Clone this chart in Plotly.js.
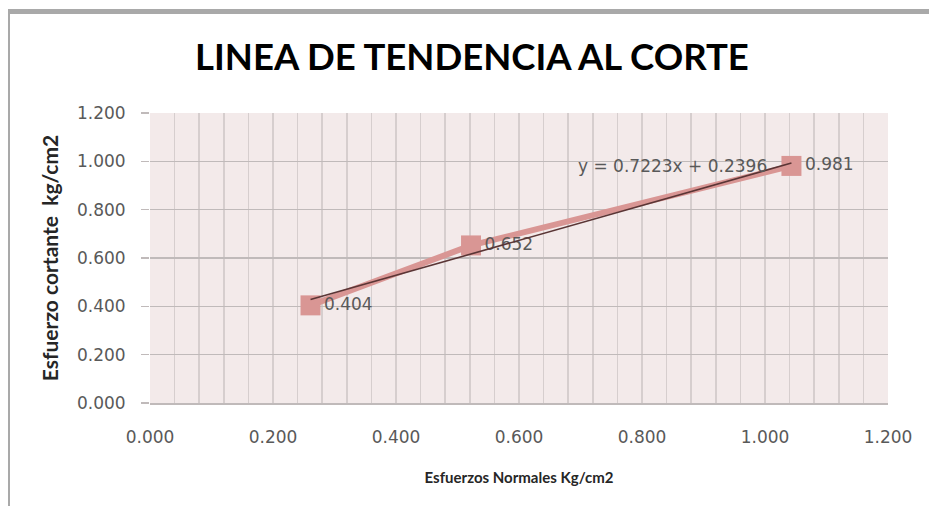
<!DOCTYPE html>
<html>
<head>
<meta charset="utf-8">
<script src="https://cdn.plot.ly/plotly-3.0.1.min.js"></script>
<style>
html,body{margin:0;padding:0;background:#ffffff;}
#chart{position:absolute;left:0;top:0;width:929px;height:506px;}
#frame{position:absolute;left:8px;top:9px;width:921px;height:497px;border-top:5px solid #a9a9a9;border-left:2px solid #a9a9a9;pointer-events:none;box-sizing:border-box;}
</style>
</head>
<body>
<div id="chart"></div>
<div id="frame"></div>
<script>
// Data
const normalStress = [0.261, 0.522, 1.043];      // Esfuerzos Normales Kg/cm2
const shearStress  = [0.404, 0.652, 0.981];      // Esfuerzo cortante kg/cm2
const pointLabels  = ['0.404', '0.652', '0.981'];
const trendSlope = 0.7223;
const trendIntercept = 0.2396;
const trendLabel = 'y = 0.7223x + 0.2396';
const xTickVals = [0, 0.2, 0.4, 0.6, 0.8, 1.0, 1.2];
const xTickText = ['0.000', '0.200', '0.400', '0.600', '0.800', '1.000', '1.200'];
const yTickVals = [0, 0.2, 0.4, 0.6, 0.8, 1.0, 1.2];
const yTickText = ['0.000', '0.200', '0.400', '0.600', '0.800', '1.000', '1.200'];
const chartTitle = 'LINEA DE TENDENCIA AL CORTE';
const xTitle = 'Esfuerzos Normales Kg/cm2';
const yTitle = 'Esfuerzo cortante  kg/cm2';

const xMin = Math.min(...normalStress), xMax = Math.max(...normalStress);
const trendX = [xMin, xMax];
const trendY = trendX.map(v => trendSlope * v + trendIntercept);

const labelFont = {family: 'DejaVu Sans, sans-serif', size: 17, color: '#595959'};

const traces = [
  {
    x: normalStress, y: shearStress, type: 'scatter', mode: 'lines+markers+text',
    text: pointLabels, textposition: 'middle right', textfont: labelFont,
    line: {color: '#d99694', width: 6},
    marker: {symbol: 'square', size: 20, color: '#d99694'},
    hoverinfo: 'x+y', showlegend: false, cliponaxis: false
  },
  {
    x: trendX, y: trendY, type: 'scatter', mode: 'lines',
    line: {color: '#5a3535', width: 1.6},
    hoverinfo: 'skip', showlegend: false
  }
];

const layout = {
  width: 929, height: 506,
  margin: {l: 150, r: 41, t: 113, b: 103},
  paper_bgcolor: 'rgba(0,0,0,0)',
  plot_bgcolor: '#f3eaea',
  showlegend: false,
  title: {
    text: chartTitle, x: 0.508, xanchor: 'center', y: 0.887, yanchor: 'middle',
    xref: 'container', yref: 'container',
    font: {family: 'Lato, sans-serif', size: 36.5, color: '#000000', weight: 'bold'}
  },
  xaxis: {
    range: [0, 1.2], tickvals: xTickVals, ticktext: xTickText,
    ticks: '', ticklabelstandoff: 18,
    tickfont: labelFont,
    showgrid: true, gridcolor: '#d6cece', gridwidth: 1.5,
    minor: {dtick: 0.04, tick0: 0, showgrid: true, gridcolor: '#d6cece', gridwidth: 1.5, ticks: ''},
    zeroline: false, showline: true, linecolor: '#c0baba', linewidth: 1.5,
    title: {text: xTitle, standoff: 26, font: {family: 'Lato, sans-serif', size: 15, color: '#262626', weight: 'bold'}}
  },
  yaxis: {
    range: [0, 1.2], tickvals: yTickVals, ticktext: yTickText,
    ticks: 'outside', ticklen: 8, tickcolor: '#c0baba', tickwidth: 1.5,
    ticklabelstandoff: 12, tickfont: labelFont,
    showgrid: true, gridcolor: '#c0baba', gridwidth: 1.5,
    zeroline: false, showline: false,
    title: {text: yTitle, standoff: 12, font: {family: 'Lato, sans-serif', size: 21, color: '#262626', weight: 'bold'}}
  },
  annotations: [{
    x: xMax, y: shearStress[shearStress.length - 1], xref: 'x', yref: 'y',
    text: trendLabel, showarrow: false, xanchor: 'right', yanchor: 'middle',
    xshift: -22, font: labelFont
  }]
};

Plotly.newPlot('chart', traces, layout, {displayModeBar: false, staticPlot: true});
</script>
</body>
</html>
